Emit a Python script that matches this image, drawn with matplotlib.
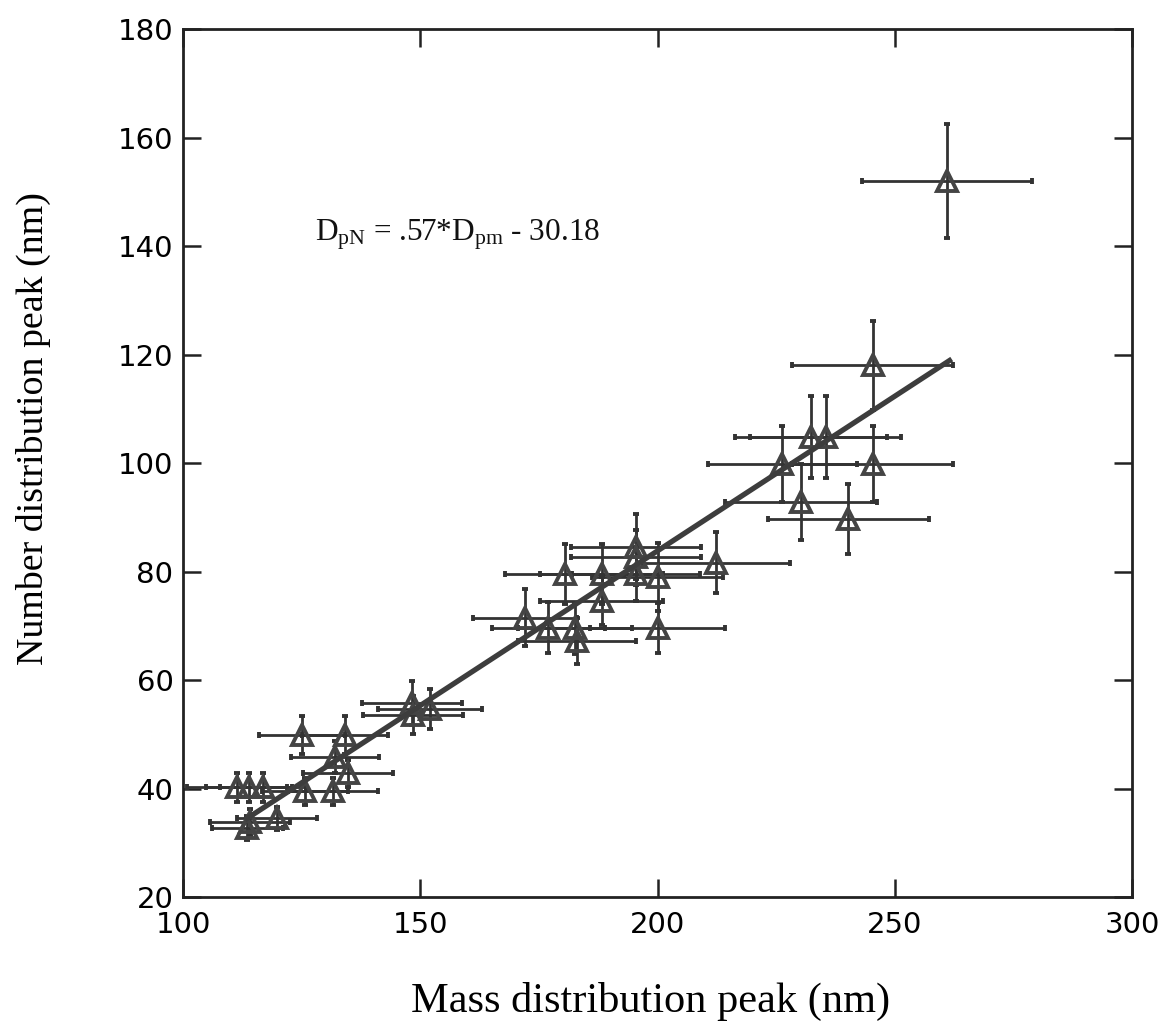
import matplotlib
matplotlib.use("Agg")
from matplotlib import pyplot as plt

# peak positions (nm) with their uncertainties
mass_peak = [111.4, 113.9, 116.8, 125.7, 131.6, 114.1, 113.5, 119.8,
             125.0, 134.1, 132.0, 134.7, 148.2, 148.4, 152.0,
             172.0, 177.0, 182.5, 183.0, 180.4, 188.2, 188.2,
             195.4, 195.4, 195.4, 200.0, 200.0, 212.4,
             226.3, 230.3, 232.4, 235.4, 240.2, 245.3, 245.3, 261.0]
number_peak = [40.2, 40.2, 40.2, 39.5, 39.5, 33.8, 32.7, 34.5,
               49.8, 49.8, 45.8, 42.8, 55.8, 53.6, 54.6,
               71.5, 69.6, 69.5, 67.2, 79.6, 79.6, 74.6,
               84.6, 82.6, 79.6, 79.0, 69.6, 81.6,
               99.8, 92.8, 104.8, 104.8, 89.7, 99.8, 118.0, 152.0]
mass_err = [10.5, 9.0, 9.0, 9.0, 9.5, 8.5, 7.5, 8.5,
            9.0, 9.0, 9.2, 9.5, 10.5, 10.5, 11.0,
            11.0, 12.0, 12.0, 12.5, 12.5, 13.0, 13.0,
            13.7, 13.7, 13.5, 13.8, 14.2, 15.5,
            15.7, 16.0, 16.0, 16.0, 17.0, 17.0, 17.0, 18.0]
number_err = [2.7, 2.7, 2.7, 2.5, 2.5, 2.5, 2.2, 2.1,
              3.5, 3.5, 3.0, 2.5, 4.0, 3.5, 3.7,
              5.2, 4.7, 4.7, 4.2, 5.5, 5.5, 4.4,
              6.0, 5.0, 5.0, 6.2, 4.6, 5.6,
              7.0, 7.0, 7.5, 7.5, 6.5, 7.0, 8.2, 10.5]

# linear fit D_pN = slope * D_pm + intercept
slope = 0.57
intercept = -30.18
fit_range = [113, 262]

plt.rcParams['mathtext.fontset'] = 'custom'
plt.rcParams['mathtext.rm'] = 'Liberation Serif'
plt.rcParams['mathtext.it'] = 'Liberation Serif:italic'

fig = plt.figure(figsize=(11.67, 10.26), dpi=100)
ax = fig.add_axes([0.157, 0.1257, 0.813, 0.846])

ink = '#333333'
ax.errorbar(mass_peak, number_peak, xerr=mass_err, yerr=number_err,
            fmt='^', ms=14, mfc='none', mec='#444444', mew=2.8,
            ecolor=ink, elinewidth=2.0, capsize=2.5, capthick=2.5, zorder=3)

fit_y = [slope * x + intercept for x in fit_range]
ax.plot(fit_range, fit_y, color='#3d3d3d', lw=3.8, solid_capstyle='butt', zorder=4)

ax.text(127.8, 142, r'D$_{\mathrm{pN}}$ = .57*D$_{\mathrm{pm}}$ - 30.18',
        fontsize=22.5, family='Liberation Serif', va='center', ha='left', color='#111111')

ax.set_xlim(100, 300)
ax.set_ylim(20, 180)
ax.set_xticks([100, 150, 200, 250, 300])
ax.set_yticks([20, 40, 60, 80, 100, 120, 140, 160, 180])
ax.tick_params(direction='in', length=13, width=1.8, top=True, right=True,
               labelsize=21, color='#222222', pad=7)
ax.tick_params(axis='x', pad=10)
for lab in ax.get_xticklabels() + ax.get_yticklabels():
    lab.set_family('DejaVu Sans')
for sp in ax.spines.values():
    sp.set_linewidth(2.0)
    sp.set_color('#222222')

ax.set_xlabel('Mass distribution peak (nm)', family='Liberation Serif', fontsize=30.5)
ax.set_ylabel('Number distribution peak (nm)', family='Liberation Serif', fontsize=27.3)
ax.xaxis.set_label_coords(0.493, -0.098)
ax.yaxis.set_label_coords(-0.139, 0.54)

fig.savefig('out.png', dpi=100)
